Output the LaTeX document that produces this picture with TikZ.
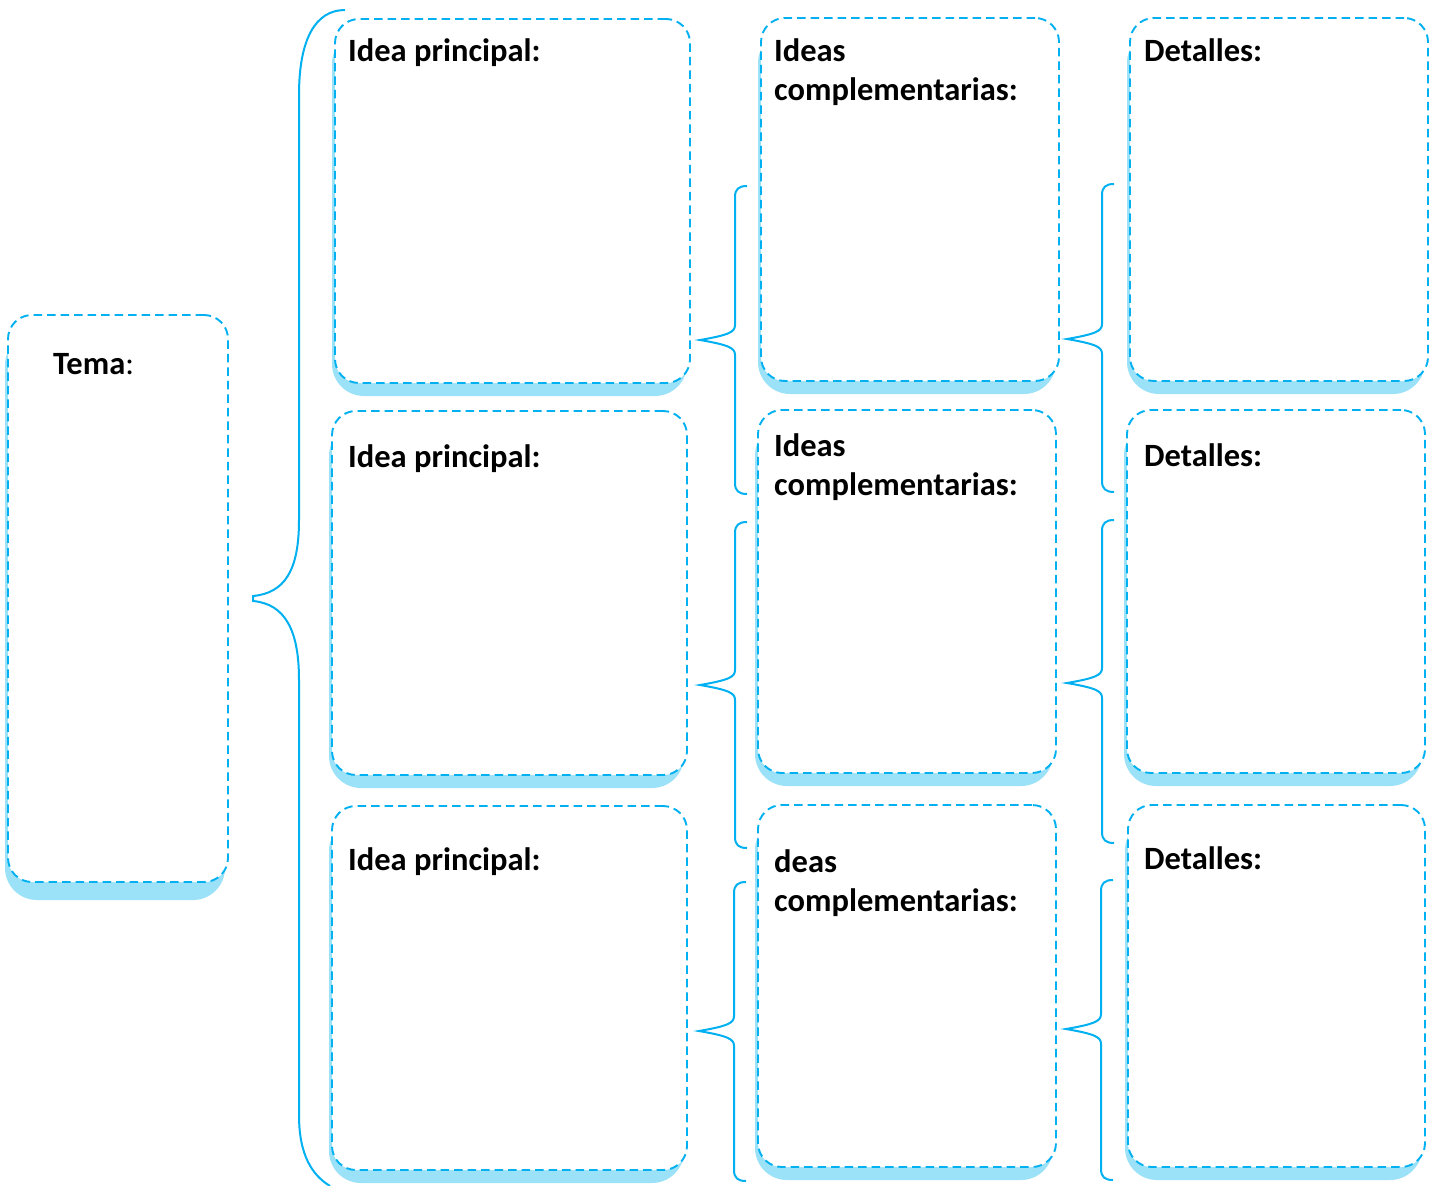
\documentclass[tikz,border=0pt]{standalone}
\usepackage{fontspec}
\setmainfont{Carlito}
\definecolor{cyanl}{RGB}{0,176,240}
\definecolor{shad}{RGB}{155,225,247}
\tikzset{
  gbox/.style={draw=cyanl, line width=1.9pt, dash pattern=on 8.5pt off 5pt, rounded corners=24pt, fill=white, inner sep=0pt},
  gshadow/.style={fill=shad, rounded corners=32pt},
  brace/.style={draw=cyanl, line width=2pt},
  lbl/.style={anchor=base west, font=\fontsize{32.5}{39}\selectfont\bfseries, inner sep=0pt},
}
% #1 name, #2 x1, #3 y1, #4 x2, #5 y2, #6 shadow drop
\newcommand\gboxdraw[6]{%
  \fill[gshadow] (#2-3,#3+#6) rectangle (#4-3,#5+#6);
  \node[gbox, minimum width={(#4-#2)*1pt}, minimum height={(#5-#3)*1pt}] (#1) at ({(#2+#4)/2},{(#3+#5)/2}) {};
}
% #1 xv, #2 ytop, #3 ytip, #4 ybot, #5 xtip
\newcommand\smallbrace[5]{%
  \draw[brace] (#1+12,#2) .. controls (#1+4,#2) and (#1,#2+3) .. (#1,#2+11)
    -- (#1,#3-15) .. controls (#1,#3-8) and (#1-6,#3-5) .. (#5,#3)
    .. controls (#1-6,#3+5) and (#1,#3+8) .. (#1,#3+15)
    -- (#1,#4-11) .. controls (#1,#4-3) and (#1+4,#4) .. (#1+12,#4);
}
\begin{document}
\begin{tikzpicture}[x=1pt,y=-1pt]
\useasboundingbox (0,0) rectangle (1439,1185);
% Tema
\gboxdraw{tema}{8}{315}{228}{882}{18}
\node[lbl] (tematxt) at (53,374) {Tema\mdseries:};
% column 1
\gboxdraw{ip1}{335}{19}{690}{383}{13}
\gboxdraw{ip2}{332}{411}{687}{775}{13}
\gboxdraw{ip3}{332}{806}{687}{1170}{13}
\node[lbl] (ip1t) at (348,62) {Idea principal:};
\node[lbl] (ip2t) at (348,467) {Idea principal:};
\node[lbl] (ip3t) at (348,870) {Idea principal:};
% column 2
\gboxdraw{ic1}{761}{18}{1059}{381}{13}
\gboxdraw{ic2}{758}{410}{1056}{773}{13}
\gboxdraw{ic3}{758}{805}{1056}{1167}{13}
\node[lbl] (ic1a) at (774,62) {Ideas};
\node[lbl] (ic1b) at (774,101) {complementarias:};
\node[lbl] (ic2a) at (774,456) {Ideas};
\node[lbl] (ic2b) at (774,495) {complementarias:};
\node[lbl] (ic3a) at (774,872) {deas};
\node[lbl] (ic3b) at (774,911) {complementarias:};
% column 3
\gboxdraw{de1}{1130}{18}{1428}{381}{13}
\gboxdraw{de2}{1127}{410}{1425}{773}{13}
\gboxdraw{de3}{1128}{805}{1425}{1167}{13}
\node[lbl] (de1t) at (1144,62) {Detalles:};
\node[lbl] (de2t) at (1144,466) {Detalles:};
\node[lbl] (de3t) at (1144,869) {Detalles:};
% big brace
\draw[brace] (345,10) .. controls (315,10) and (299,40) .. (299,95)
  -- (299,520) .. controls (299,570) and (285,593) .. (253,596) -- (253,601)
  .. controls (285,604) and (299,630) .. (299,680)
  -- (299,1115) .. controls (299,1155) and (312,1175) .. (330,1186);
% small braces
\smallbrace{735}{186}{340}{494}{700}
\smallbrace{735}{522}{685}{848}{700}
\smallbrace{734}{882}{1031}{1181}{699}
\smallbrace{1102}{184}{339}{492}{1067}
\smallbrace{1102}{520}{683}{843}{1067}
\smallbrace{1101}{880}{1029}{1180}{1066}
\end{tikzpicture}
\end{document}
